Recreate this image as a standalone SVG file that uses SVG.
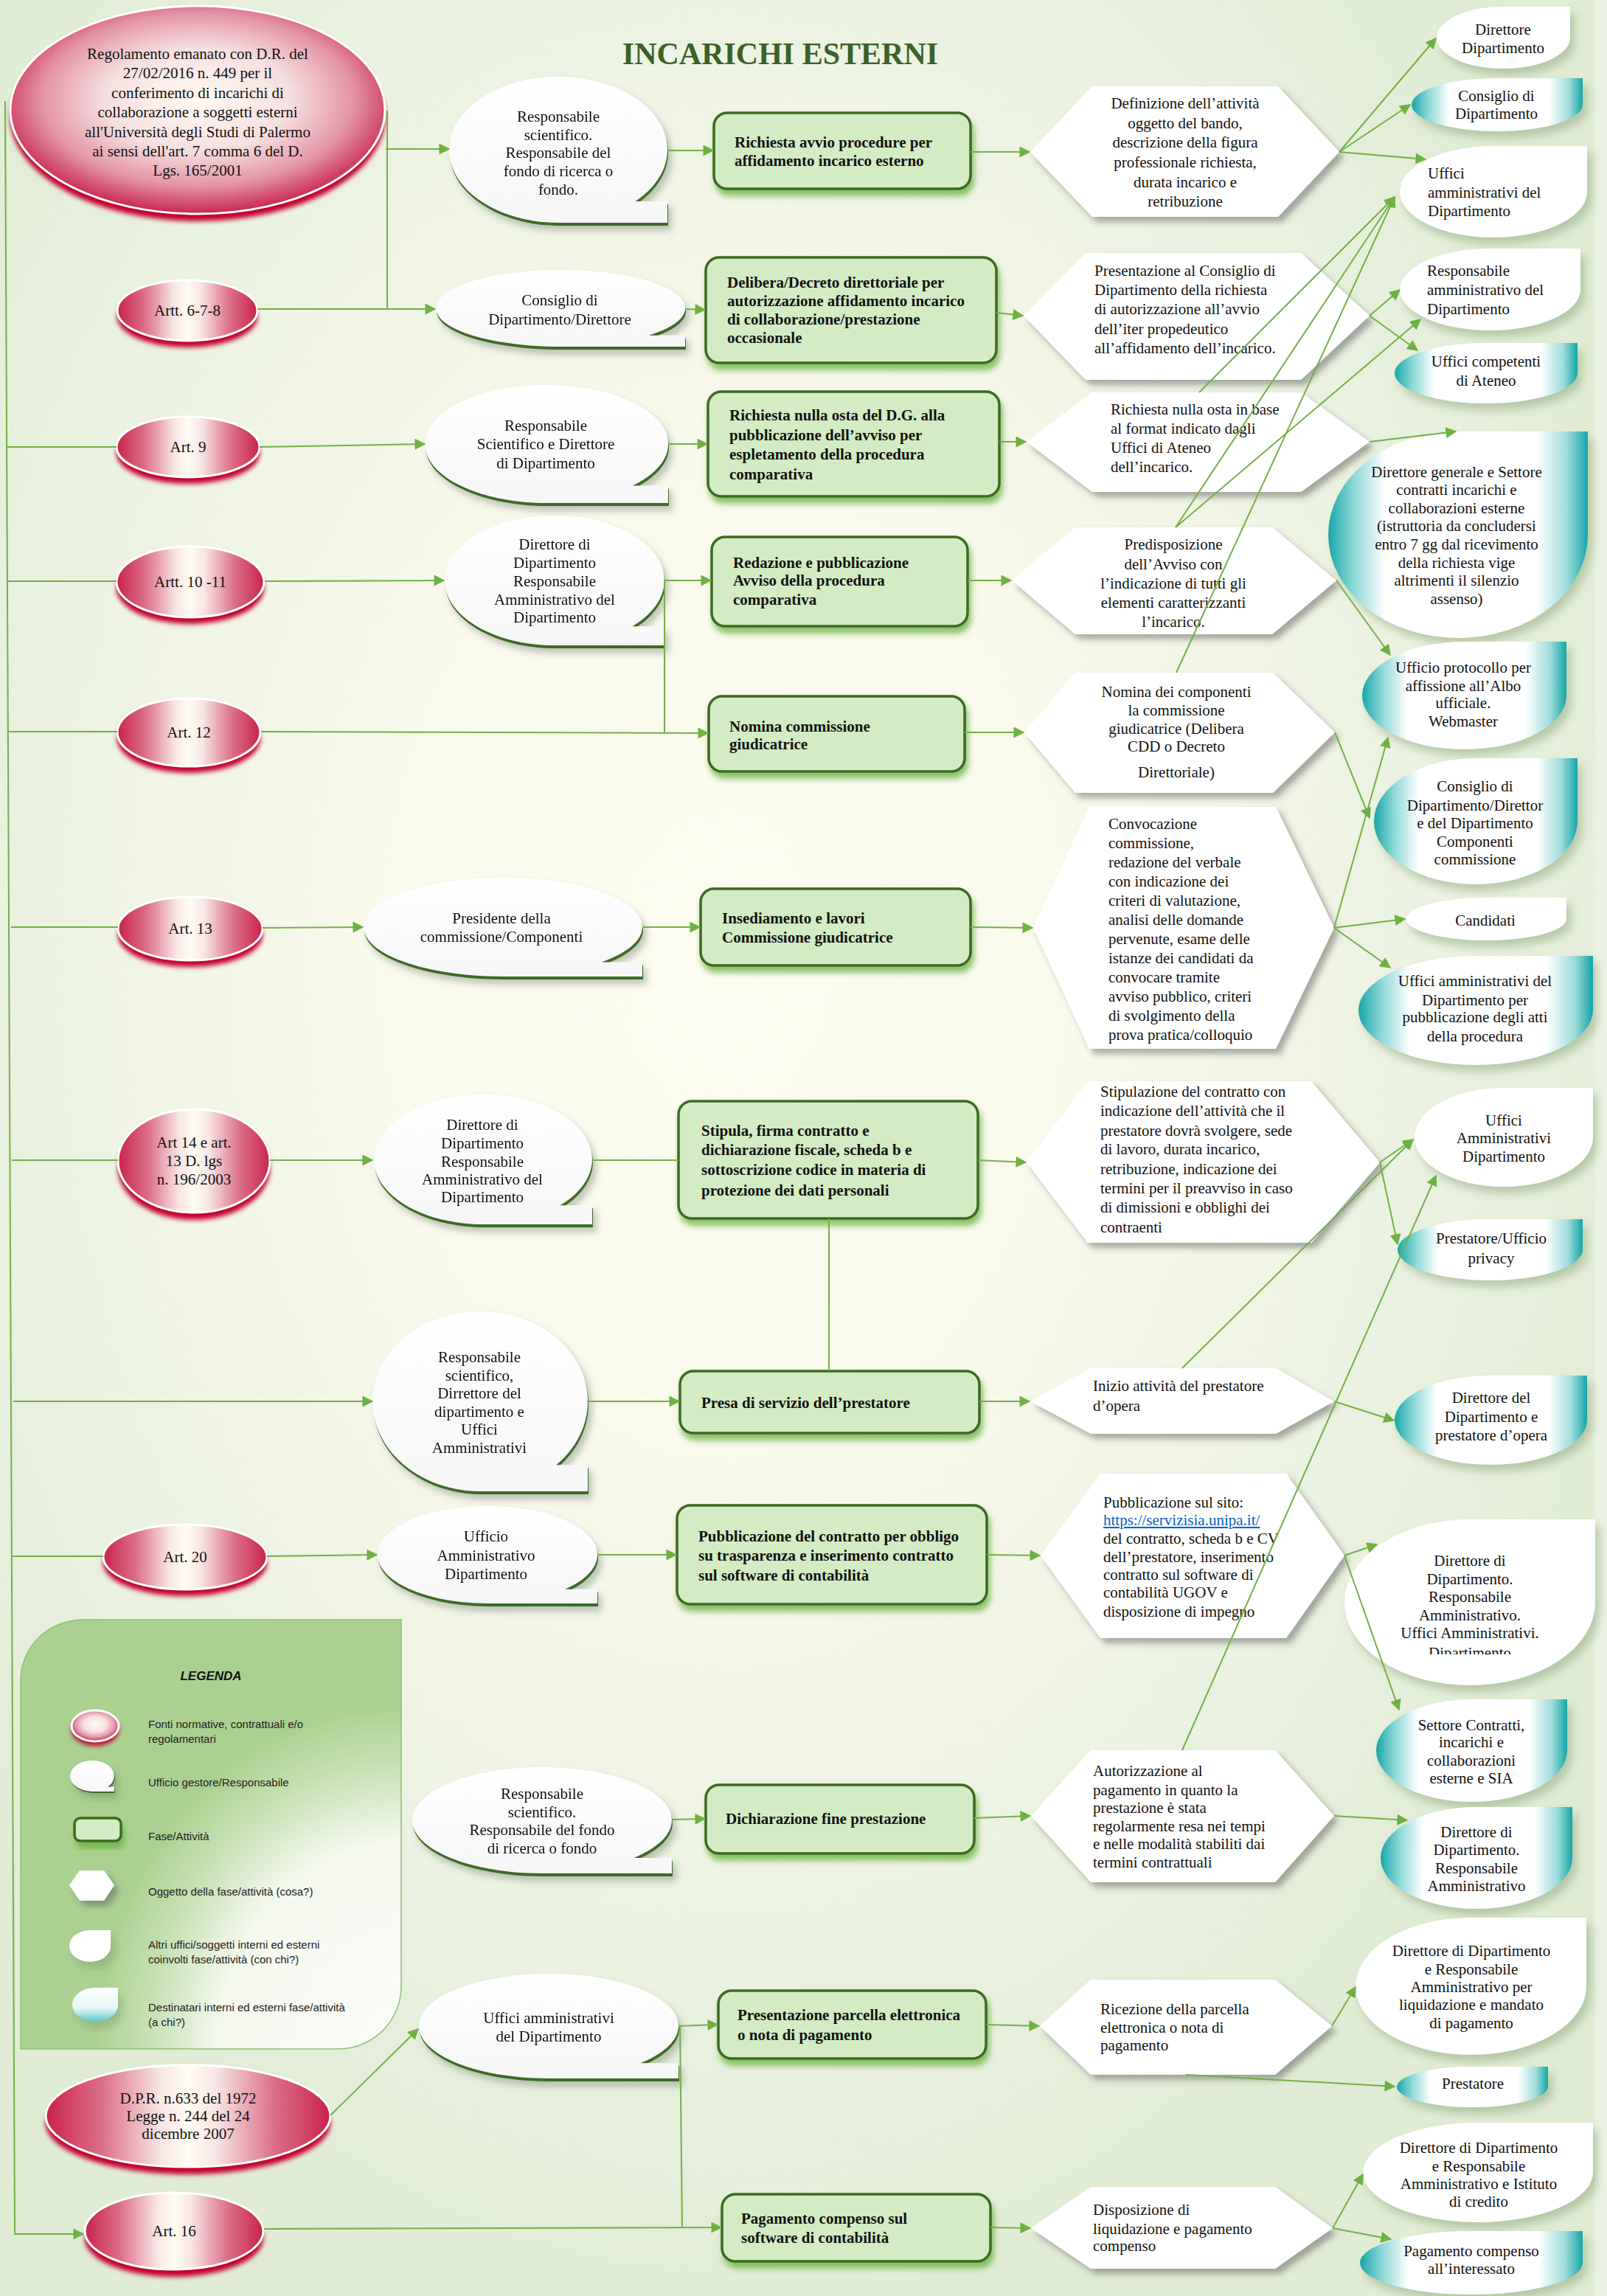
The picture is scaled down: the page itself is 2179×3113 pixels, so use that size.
<svg xmlns="http://www.w3.org/2000/svg" width="2179" height="3113" viewBox="0 0 2179 3113">
<style>
.t{font-family:"Liberation Serif","Times New Roman",serif;font-size:21px;fill:#111}
.m{text-anchor:middle}
.b{font-weight:bold}
.lg{font-family:"Liberation Sans",Arial,sans-serif;font-size:15px;fill:#222}
.ln line,.ln path{stroke:#72b046;stroke-width:2;fill:none}
.a{marker-end:url(#ah)}
.fr{fill:#d3ecc3;stroke:#3c6a22;stroke-width:3.5;filter:url(#fg)}
.hx{fill:#fff;filter:url(#fh)}
.tw{fill:#fff;filter:url(#ft)}
.tc{fill:url(#gc);filter:url(#ft)}
.rs{fill:#c2002e;filter:url(#fr)}
.re{fill:url(#gr);stroke:#fff;stroke-width:3}
.rr{fill:url(#grr);stroke:#fff;stroke-width:3}
.bd{fill:#3e6a25}
.bw{fill:url(#gw)}
.bub{filter:url(#fb)}
</style>
<defs>
<marker id="ah" viewBox="0 0 10 10" refX="9" refY="5" markerWidth="18" markerHeight="15" markerUnits="userSpaceOnUse" orient="auto"><path d="M0,0 L10,5 L0,10 Z" fill="#6fb043"/></marker>
<radialGradient id="bg" cx="0.45" cy="0.42" r="0.6"><stop offset="0" stop-color="#fdfcf0"/><stop offset="0.35" stop-color="#f9f9ec"/><stop offset="0.8" stop-color="#e8f0de"/><stop offset="1" stop-color="#e0ecd4"/></radialGradient>
<linearGradient id="gr" x1="0" x2="1" y1="0" y2="0"><stop offset="0" stop-color="#c8234c"/><stop offset="0.2" stop-color="#dc7088"/><stop offset="0.4" stop-color="#f8e4e4"/><stop offset="0.5" stop-color="#fffcf2"/><stop offset="0.6" stop-color="#f8e4e4"/><stop offset="0.8" stop-color="#dc7088"/><stop offset="1" stop-color="#c8234c"/></linearGradient>
<radialGradient id="grr" cx="0.5" cy="0.45" r="0.55"><stop offset="0" stop-color="#fffaf2"/><stop offset="0.45" stop-color="#f6dfe0"/><stop offset="0.75" stop-color="#e496a8"/><stop offset="1" stop-color="#c92550"/></radialGradient>
<linearGradient id="gc" x1="0" x2="1" y1="0" y2="0"><stop offset="0" stop-color="#17a6a8"/><stop offset="0.1" stop-color="#8fd8d8"/><stop offset="0.22" stop-color="#fff"/><stop offset="0.8" stop-color="#fff"/><stop offset="0.92" stop-color="#9fdcdc"/><stop offset="1" stop-color="#14a5a7"/></linearGradient>
<linearGradient id="gcl" x1="0" x2="0" y1="0" y2="1"><stop offset="0" stop-color="#fff"/><stop offset="0.6" stop-color="#e6f7f7"/><stop offset="1" stop-color="#5ecaca"/></linearGradient>
<linearGradient id="gw" x1="0" x2="0" y1="0" y2="1"><stop offset="0" stop-color="#fff"/><stop offset="1" stop-color="#f6f6f6"/></linearGradient>
<radialGradient id="glg" cx="1" cy="1" r="0.8"><stop offset="0" stop-color="#fbfcf7"/><stop offset="0.6" stop-color="#f4f8ee"/><stop offset="0.85" stop-color="#c3dfad"/><stop offset="1" stop-color="#aad190"/></radialGradient>
<filter id="fh" x="-10%" y="-10%" width="130%" height="140%"><feDropShadow dx="6" dy="7" stdDeviation="4" flood-color="#4a4a4a" flood-opacity="0.45"/></filter>
<filter id="fg" x="-10%" y="-10%" width="130%" height="150%"><feDropShadow dx="3" dy="8" stdDeviation="4" flood-color="#5fae36" flood-opacity="0.75"/></filter>
<filter id="fb" x="-10%" y="-10%" width="130%" height="140%"><feDropShadow dx="5" dy="7" stdDeviation="5" flood-color="#556655" flood-opacity="0.35"/></filter>
<filter id="ft" x="-10%" y="-10%" width="130%" height="140%"><feDropShadow dx="6" dy="9" stdDeviation="6" flood-color="#7f9a70" flood-opacity="0.45"/></filter>
<filter id="fr" x="-10%" y="-10%" width="120%" height="130%"><feGaussianBlur stdDeviation="3"/></filter>
<clipPath id="c14"><rect x="1800" y="2050" width="380" height="193"/></clipPath>
</defs>

<rect width="2179" height="3113" fill="url(#bg)"/>
<rect x="2163" y="0" width="16" height="3113" fill="#eef3e8" opacity="0.7"/>

<text x="1058" y="87" text-anchor="middle" font-family="Liberation Serif" font-weight="bold" font-size="42" fill="#3b6128">INCARICHI ESTERNI</text>

<!-- Legend -->
<g id="legenda">
<path d="M28,2278 A85,82 0 0 1 113,2196 L544,2196 L544,2693 A85,85 0 0 1 459,2778 L28,2778 Z" fill="url(#glg)" stroke="#8fc175" stroke-width="1.5"/>
<text x="286" y="2278" text-anchor="middle" font-family="Liberation Sans" font-weight="bold" font-style="italic" font-size="17" fill="#111">LEGENDA</text>
<ellipse cx="129" cy="2346" rx="32" ry="21" class="rs"/>
<ellipse cx="129" cy="2340" rx="32" ry="21" class="rr" stroke-width="2"/>
<text class="lg" x="201" y="2343">Fonti normative, contrattuali e/o</text>
<text class="lg" x="201" y="2363">regolamentari</text>
<g class="bub"><path class="bd" transform="translate(1,2)" d="M125,2429 A30,21 0 1 1 146.2,2422.8 L155,2422.8 L155,2429 Z"/><path class="bw" d="M125,2429 A30,21 0 1 1 146.2,2422.8 L155,2422.8 L155,2429 Z"/></g>
<text class="lg" x="201" y="2422">Ufficio gestore/Responsabile</text>
<rect x="101" y="2465" width="63" height="31" rx="8" class="fr" stroke-width="2.5"/>
<text class="lg" x="201" y="2495">Fase/Attività</text>
<polygon class="hx" points="94,2556 108,2536 141,2536 155,2556 141,2577 108,2577"/>
<text class="lg" x="201" y="2570">Oggetto della fase/attività (cosa?)</text>
<path class="tw" d="M122,2617 L150,2617 L150,2638.5 A28,21.5 0 0 1 122,2660 A28,21.5 0 0 1 94,2638.5 A28,21.5 0 0 1 122,2617 Z"/>
<text class="lg" x="201" y="2642">Altri uffici/soggetti interni ed esterni</text>
<text class="lg" x="201" y="2662">coinvolti fase/attività  (con chi?)</text>
<path fill="url(#gcl)" filter="url(#ft)" d="M129,2695 L160,2695 L160,2718 A31,23 0 0 1 129,2741 A31,23 0 0 1 98,2718 A31,23 0 0 1 129,2695 Z"/>
<text class="lg" x="201" y="2727">Destinatari interni ed esterni fase/attività</text>
<text class="lg" x="201" y="2747">(a chi?)</text>
</g>

<!-- Red source ellipses -->
<g id="n-regolamento">
<ellipse cx="268" cy="159" rx="254" ry="141" class="rs"/>
<ellipse cx="268" cy="149" rx="254" ry="141" class="rr"/>
<text class="t m"><tspan x="268" y="80">Regolamento emanato con D.R. del</tspan><tspan x="268" y="106">27/02/2016 n. 449 per il</tspan><tspan x="268" y="133">conferimento di incarichi di</tspan><tspan x="268" y="159">collaborazione a soggetti esterni</tspan><tspan x="268" y="186">all'Università degli Studi di Palermo</tspan><tspan x="268" y="212">ai sensi dell'art. 7 comma 6 del D.</tspan><tspan x="268" y="238">Lgs. 165/2001</tspan></text>
</g>
<g id="n-art678"><ellipse cx="254" cy="430" rx="95" ry="41" class="rs"/><ellipse cx="254" cy="421" rx="95" ry="41" class="re"/><text class="t m" x="254" y="428">Artt. 6-7-8</text></g>
<g id="n-art9"><ellipse cx="255" cy="615" rx="97" ry="41" class="rs"/><ellipse cx="255" cy="606" rx="97" ry="41" class="re"/><text class="t m" x="255" y="613">Art. 9</text></g>
<g id="n-art1011"><ellipse cx="258" cy="798" rx="100" ry="48" class="rs"/><ellipse cx="258" cy="789" rx="100" ry="48" class="re"/><text class="t m" x="258" y="796">Artt. 10 -11</text></g>
<g id="n-art12"><ellipse cx="256" cy="1002" rx="97" ry="46" class="rs"/><ellipse cx="256" cy="993" rx="97" ry="46" class="re"/><text class="t m" x="256" y="1000">Art. 12</text></g>
<g id="n-art13"><ellipse cx="258" cy="1268" rx="98" ry="43" class="rs"/><ellipse cx="258" cy="1259" rx="98" ry="43" class="re"/><text class="t m" x="258" y="1266">Art. 13</text></g>
<g id="n-art14"><ellipse cx="263" cy="1584" rx="103" ry="70" class="rs"/><ellipse cx="263" cy="1574" rx="103" ry="70" class="re"/><text class="t m"><tspan x="263" y="1556">Art 14 e art.</tspan><tspan x="263" y="1581">13 D. lgs</tspan><tspan x="263" y="1606">n. 196/2003</tspan></text></g>
<g id="n-art20"><ellipse cx="251" cy="2120" rx="111" ry="44" class="rs"/><ellipse cx="251" cy="2111" rx="111" ry="44" class="re"/><text class="t m" x="251" y="2118">Art. 20</text></g>
<g id="n-dpr"><ellipse cx="255" cy="2879" rx="193" ry="69" class="rs"/><ellipse cx="255" cy="2869" rx="193" ry="69" class="re"/><text class="t m"><tspan x="255" y="2852">D.P.R. n.633 del 1972</tspan><tspan x="255" y="2876">Legge n. 244 del 24</tspan><tspan x="255" y="2900">dicembre 2007</tspan></text></g>
<g id="n-art16"><ellipse cx="236" cy="3035" rx="121" ry="52" class="rs"/><ellipse cx="236" cy="3025" rx="121" ry="52" class="re"/><text class="t m" x="236" y="3032">Art. 16</text></g>

<!-- Responsible bubbles -->
<g id="n-b1" class="bub"><path class="bd" transform="translate(1,4)" d="M757,302 A148,99 0 1 1 861.6,273 L905,273 L905,302 Z"/><path class="bw" d="M757,302 A148,99 0 1 1 861.6,273 L905,273 L905,302 Z"/>
<text class="t m"><tspan x="757" y="165">Responsabile</tspan><tspan x="757" y="190">scientifico.</tspan><tspan x="757" y="214">Responsabile del</tspan><tspan x="757" y="239">fondo di ricerca o</tspan><tspan x="757" y="264">fondo.</tspan></text></g>
<g id="n-b2" class="bub"><path class="bd" transform="translate(1,4)" d="M760,470 A169,52 0 1 1 879.5,454.8 L929,454.8 L929,470 Z"/><path class="bw" d="M760,470 A169,52 0 1 1 879.5,454.8 L929,454.8 L929,470 Z"/>
<text class="t m"><tspan x="759" y="414">Consiglio di</tspan><tspan x="759" y="440">Dipartimento/Direttore</tspan></text></g>
<g id="n-b3" class="bub"><path class="bd" transform="translate(1,4)" d="M741,682 A165,80 0 1 1 857.7,658.6 L906,658.6 L906,682 Z"/><path class="bw" d="M741,682 A165,80 0 1 1 857.7,658.6 L906,658.6 L906,682 Z"/>
<text class="t m"><tspan x="740" y="584">Responsabile</tspan><tspan x="740" y="609">Scientifico e Direttore</tspan><tspan x="740" y="635">di Dipartimento</tspan></text></g>
<g id="n-b4" class="bub"><path class="bd" transform="translate(1,4)" d="M752,875 A149,88 0 1 1 857.3,849.2 L901,849.2 L901,875 Z"/><path class="bw" d="M752,875 A149,88 0 1 1 857.3,849.2 L901,849.2 L901,875 Z"/>
<text class="t m"><tspan x="752" y="745">Direttore di</tspan><tspan x="752" y="770">Dipartimento</tspan><tspan x="752" y="795">Responsabile</tspan><tspan x="752" y="820">Amministrativo del</tspan><tspan x="752" y="844">Dipartimento</tspan></text></g>
<g id="n-b5" class="bub"><path class="bd" transform="translate(1,4)" d="M682,1324 A189,67 0 1 1 815.6,1304.4 L871,1304.4 L871,1324 Z"/><path class="bw" d="M682,1324 A189,67 0 1 1 815.6,1304.4 L871,1304.4 L871,1324 Z"/>
<text class="t m"><tspan x="680" y="1252">Presidente della</tspan><tspan x="680" y="1277">commissione/Componenti</tspan></text></g>
<g id="n-b6" class="bub"><path class="bd" transform="translate(1,4)" d="M655,1660 A148,88 0 1 1 759.6,1634.2 L803,1634.2 L803,1660 Z"/><path class="bw" d="M655,1660 A148,88 0 1 1 759.6,1634.2 L803,1634.2 L803,1660 Z"/>
<text class="t m"><tspan x="654" y="1532">Direttore di</tspan><tspan x="654" y="1557">Dipartimento</tspan><tspan x="654" y="1582">Responsabile</tspan><tspan x="654" y="1606">Amministrativo del</tspan><tspan x="654" y="1630">Dipartimento</tspan></text></g>
<g id="n-b7" class="bub"><path class="bd" transform="translate(1,4)" d="M651,2022 A146,122 0 1 1 754.2,1986.3 L797,1986.3 L797,2022 Z"/><path class="bw" d="M651,2022 A146,122 0 1 1 754.2,1986.3 L797,1986.3 L797,2022 Z"/>
<text class="t m"><tspan x="650" y="1847">Responsabile</tspan><tspan x="650" y="1872">scientifico,</tspan><tspan x="650" y="1896">Dirrettore del</tspan><tspan x="650" y="1921">dipartimento e</tspan><tspan x="650" y="1945">Uffici</tspan><tspan x="650" y="1970">Amministrativi</tspan></text></g>
<g id="n-b8" class="bub"><path class="bd" transform="translate(1,4)" d="M661,2174 A149,66 0 1 1 766.3,2154.7 L810,2154.7 L810,2174 Z"/><path class="bw" d="M661,2174 A149,66 0 1 1 766.3,2154.7 L810,2154.7 L810,2174 Z"/>
<text class="t m"><tspan x="659" y="2090">Ufficio</tspan><tspan x="659" y="2116">Amministrativo</tspan><tspan x="659" y="2141">Dipartimento</tspan></text></g>
<g id="n-b9" class="bub"><path class="bd" transform="translate(1,4)" d="M735,2540 A176,72 0 1 1 859.4,2518.9 L911,2518.9 L911,2540 Z"/><path class="bw" d="M735,2540 A176,72 0 1 1 859.4,2518.9 L911,2518.9 L911,2540 Z"/>
<text class="t m"><tspan x="735" y="2439">Responsabile</tspan><tspan x="735" y="2464">scientifico.</tspan><tspan x="735" y="2488">Responsabile del fondo</tspan><tspan x="735" y="2513">di ricerca o fondo</tspan></text></g>
<g id="n-b10" class="bub"><path class="bd" transform="translate(1,4)" d="M744,2818 A176,71 0 1 1 868.4,2797.2 L920,2797.2 L920,2818 Z"/><path class="bw" d="M744,2818 A176,71 0 1 1 868.4,2797.2 L920,2797.2 L920,2818 Z"/>
<text class="t m"><tspan x="744" y="2743">Uffici amministrativi</tspan><tspan x="744" y="2768">del Dipartimento</tspan></text></g>

<!-- Phase rectangles -->
<g id="n-r1"><rect x="968" y="153" width="348" height="103" rx="18" class="fr"/><text class="t b"><tspan x="996" y="200">Richiesta avvio procedure per</tspan><tspan x="996" y="225">affidamento incarico esterno</tspan></text></g>
<g id="n-r2"><rect x="957" y="349" width="394" height="143" rx="18" class="fr"/><text class="t b"><tspan x="986" y="390">Delibera/Decreto direttoriale per</tspan><tspan x="986" y="415">autorizzazione affidamento incarico</tspan><tspan x="986" y="440">di collaborazione/prestazione</tspan><tspan x="986" y="465">occasionale</tspan></text></g>
<g id="n-r3"><rect x="960" y="531" width="395" height="142" rx="18" class="fr"/><text class="t b"><tspan x="989" y="570">Richiesta nulla osta del D.G.  alla</tspan><tspan x="989" y="597">pubblicazione dell’avviso per</tspan><tspan x="989" y="623">espletamento della procedura</tspan><tspan x="989" y="650">comparativa</tspan></text></g>
<g id="n-r4"><rect x="965" y="728" width="347" height="121" rx="18" class="fr"/><text class="t b"><tspan x="994" y="770">Redazione e pubblicazione</tspan><tspan x="994" y="794">Avviso della procedura</tspan><tspan x="994" y="820">comparativa</tspan></text></g>
<g id="n-r5"><rect x="961" y="944" width="347" height="102" rx="18" class="fr"/><text class="t b"><tspan x="989" y="992">Nomina commissione</tspan><tspan x="989" y="1016">giudicatrice</tspan></text></g>
<g id="n-r6"><rect x="950" y="1205" width="366" height="104" rx="18" class="fr"/><text class="t b"><tspan x="979" y="1252">Insediamento e lavori</tspan><tspan x="979" y="1278">Commissione giudicatrice</tspan></text></g>
<g id="n-r7"><rect x="920" y="1493" width="406" height="159" rx="18" class="fr"/><text class="t b"><tspan x="951" y="1540">Stipula, firma contratto e</tspan><tspan x="951" y="1566">dichiarazione fiscale, scheda b e</tspan><tspan x="951" y="1593">sottoscrizione codice in materia di</tspan><tspan x="951" y="1621">protezione dei dati personali</tspan></text></g>
<g id="n-r8"><rect x="922" y="1859" width="406" height="84" rx="18" class="fr"/><text class="t b" x="951" y="1909">Presa di servizio dell’prestatore</text></g>
<g id="n-r9"><rect x="918" y="2041" width="420" height="134" rx="18" class="fr"/><text class="t b"><tspan x="947" y="2090">Pubblicazione del contratto per obbligo</tspan><tspan x="947" y="2116">su trasparenza e inserimento contratto</tspan><tspan x="947" y="2143">sul software di contabilità</tspan></text></g>
<g id="n-r10"><rect x="957" y="2420" width="364" height="93" rx="18" class="fr"/><text class="t b" x="984" y="2473">Dichiarazione fine prestazione</text></g>
<g id="n-r11"><rect x="974" y="2699" width="363" height="92" rx="18" class="fr"/><text class="t b"><tspan x="1000" y="2739">Presentazione parcella elettronica</tspan><tspan x="1000" y="2766">o nota di pagamento</tspan></text></g>
<g id="n-r12"><rect x="979" y="2975" width="364" height="91" rx="18" class="fr"/><text class="t b"><tspan x="1005" y="3015">Pagamento compenso sul</tspan><tspan x="1005" y="3041">software di contabilità</tspan></text></g>

<!-- Hexagons -->
<g id="n-h1"><polygon class="hx" points="1397,206 1481,117 1733,117 1816,206 1733,294 1481,294"/><text class="t m"><tspan x="1607" y="147">Definizione dell’attività</tspan><tspan x="1607" y="174">oggetto del bando,</tspan><tspan x="1607" y="200">descrizione della figura</tspan><tspan x="1607" y="227">professionale richiesta,</tspan><tspan x="1607" y="254">durata incarico e</tspan><tspan x="1607" y="280">retribuzione</tspan></text></g>
<g id="n-h2"><polygon class="hx" points="1388,428 1472,343 1764,343 1857,428 1764,515 1472,515"/><text class="t"><tspan x="1484" y="374">Presentazione al Consiglio di</tspan><tspan x="1484" y="400">Dipartimento della richiesta</tspan><tspan x="1484" y="426">di autorizzazione all’avvio</tspan><tspan x="1484" y="453">dell’iter propedeutico</tspan><tspan x="1484" y="479">all’affidamento dell’incarico.</tspan></text></g>
<g id="n-h3"><polygon class="hx" points="1392,599 1481,532 1764,532 1857,599 1764,667 1481,667"/><text class="t"><tspan x="1506" y="562">Richiesta nulla osta in base</tspan><tspan x="1506" y="588">al format indicato dagli</tspan><tspan x="1506" y="614">Uffici di Ateneo</tspan><tspan x="1506" y="640">dell’incarico.</tspan></text></g>
<g id="n-h4"><polygon class="hx" points="1372,787 1458,715 1725,715 1812,787 1725,860 1458,860"/><text class="t m"><tspan x="1591" y="745">Predisposizione</tspan><tspan x="1591" y="772">dell’Avviso con</tspan><tspan x="1591" y="798">l’indicazione di tutti gli</tspan><tspan x="1591" y="824">elementi caratterizzanti</tspan><tspan x="1591" y="850">l’incarico.</tspan></text></g>
<g id="n-h5"><polygon class="hx" points="1389,993 1458,912 1726,912 1810,993 1726,1075 1458,1075"/><text class="t m"><tspan x="1595" y="945">Nomina dei componenti</tspan><tspan x="1595" y="970">la commissione</tspan><tspan x="1595" y="995">giudicatrice (Delibera</tspan><tspan x="1595" y="1019">CDD o Decreto</tspan><tspan x="1595" y="1054">Direttoriale)</tspan></text></g>
<g id="n-h6"><polygon class="hx" points="1401,1258 1477,1094 1730,1094 1809,1258 1730,1422 1477,1422"/><text class="t"><tspan x="1503" y="1124">Convocazione</tspan><tspan x="1503" y="1150">commissione,</tspan><tspan x="1503" y="1176">redazione del verbale</tspan><tspan x="1503" y="1202">con indicazione dei</tspan><tspan x="1503" y="1228">criteri di valutazione,</tspan><tspan x="1503" y="1254">analisi delle domande</tspan><tspan x="1503" y="1280">pervenute, esame delle</tspan><tspan x="1503" y="1306">istanze dei candidati da</tspan><tspan x="1503" y="1332">convocare tramite</tspan><tspan x="1503" y="1358">avviso pubblico, criteri</tspan><tspan x="1503" y="1384">di svolgimento della</tspan><tspan x="1503" y="1410">prova pratica/colloquio</tspan></text></g>
<g id="n-h7"><polygon class="hx" points="1392,1576 1475,1466 1778,1466 1871,1576 1778,1685 1475,1685"/><text class="t"><tspan x="1492" y="1487">Stipulazione del contratto con</tspan><tspan x="1492" y="1513">indicazione dell’attività che il</tspan><tspan x="1492" y="1540">prestatore dovrà svolgere, sede</tspan><tspan x="1492" y="1565">di lavoro, durata incarico,</tspan><tspan x="1492" y="1592">retribuzione, indicazione dei</tspan><tspan x="1492" y="1618">termini per il preavviso in caso</tspan><tspan x="1492" y="1644">di dimissioni e obblighi dei</tspan><tspan x="1492" y="1671">contraenti</tspan></text></g>
<g id="n-h8"><polygon class="hx" points="1397,1900 1479,1855 1730,1855 1809,1900 1730,1944 1479,1944"/><text class="t"><tspan x="1482" y="1886">Inizio attività del prestatore</tspan><tspan x="1482" y="1913">d’opera</tspan></text></g>
<g id="n-h9"><polygon class="hx" points="1411,2109 1492,1998 1744,1998 1823,2109 1744,2221 1492,2221"/><text class="t"><tspan x="1496" y="2044">Pubblicazione sul sito:</tspan><tspan x="1496" y="2068" fill="#0563c1" text-decoration="underline">https://servizisia.unipa.it/</tspan><tspan x="1496" y="2093">del contratto, scheda b e CV</tspan><tspan x="1496" y="2118">dell’prestatore, inserimento</tspan><tspan x="1496" y="2142">contratto sul software di</tspan><tspan x="1496" y="2166">contabilità UGOV e</tspan><tspan x="1496" y="2192">disposizione di impegno</tspan></text></g>
<g id="n-h10"><polygon class="hx" points="1398,2462 1479,2373 1729,2373 1809,2462 1729,2552 1479,2552"/><text class="t"><tspan x="1482" y="2408">Autorizzazione al</tspan><tspan x="1482" y="2434">pagamento in quanto la</tspan><tspan x="1482" y="2458">prestazione è stata</tspan><tspan x="1482" y="2483">regolarmente resa nei tempi</tspan><tspan x="1482" y="2507">e nelle modalità stabiliti dai</tspan><tspan x="1482" y="2532">termini contrattuali</tspan></text></g>
<g id="n-h11"><polygon class="hx" points="1410,2747 1479,2684 1729,2684 1806,2747 1729,2813 1479,2813"/><text class="t"><tspan x="1492" y="2731">Ricezione della parcella</tspan><tspan x="1492" y="2756">elettronica o nota di</tspan><tspan x="1492" y="2780">pagamento</tspan></text></g>
<g id="n-h12"><polygon class="hx" points="1398,3021 1479,2965 1729,2965 1807,3021 1729,3076 1479,3076"/><text class="t"><tspan x="1482" y="3003">Disposizione di</tspan><tspan x="1482" y="3029">liquidazione e pagamento</tspan><tspan x="1482" y="3052">compenso</tspan></text></g>

<!-- Right column: involved / recipients -->
<g id="n-t1"><path class="tw" d="M2038.5,9 L2129,9 L2129,51 A90.5,42 0 0 1 2038.5,93 A90.5,42 0 0 1 1948,51 A90.5,42 0 0 1 2038.5,9 Z"/><text class="t m"><tspan x="2038" y="47">Direttore</tspan><tspan x="2038" y="72">Dipartimento</tspan></text></g>
<g id="n-t2"><path class="tc" d="M2030,106 L2146,106 L2146,142 A116,36 0 0 1 2030,178 A116,36 0 0 1 1914,142 A116,36 0 0 1 2030,106 Z"/><text class="t m"><tspan x="2029" y="137">Consiglio di</tspan><tspan x="2029" y="161">Dipartimento</tspan></text></g>
<g id="n-t3"><path class="tw" d="M2025,198 L2152,198 L2152,260 A127,62 0 0 1 2025,322 A127,62 0 0 1 1898,260 A127,62 0 0 1 2025,198 Z"/><text class="t"><tspan x="1936" y="242">Uffici</tspan><tspan x="1936" y="268">amministrativi del</tspan><tspan x="1936" y="293">Dipartimento</tspan></text></g>
<g id="n-t4"><path class="tw" d="M2020.5,337 L2143,337 L2143,392.5 A122.5,55.5 0 0 1 2020.5,448 A122.5,55.5 0 0 1 1898,392.5 A122.5,55.5 0 0 1 2020.5,337 Z"/><text class="t"><tspan x="1935" y="374">Responsabile</tspan><tspan x="1935" y="400">amministrativo del</tspan><tspan x="1935" y="426">Dipartimento</tspan></text></g>
<g id="n-t5"><path class="tc" d="M2015,465 L2139,465 L2139,506 A124,41 0 0 1 2015,547 A124,41 0 0 1 1891,506 A124,41 0 0 1 2015,465 Z"/><text class="t m"><tspan x="2015" y="497">Uffici competenti</tspan><tspan x="2015" y="523">di Ateneo</tspan></text></g>
<g id="n-t6"><path class="tc" d="M1977,585 L2153,585 L2153,725 A176,140 0 0 1 1977,865 A176,140 0 0 1 1801,725 A176,140 0 0 1 1977,585 Z"/><text class="t m"><tspan x="1975" y="647">Direttore generale e Settore</tspan><tspan x="1975" y="671">contratti incarichi e</tspan><tspan x="1975" y="696">collaborazioni esterne</tspan><tspan x="1975" y="720">(istruttoria da concludersi</tspan><tspan x="1975" y="745">entro 7 gg dal ricevimento</tspan><tspan x="1975" y="770">della richiesta vige</tspan><tspan x="1975" y="794">altrimenti il silenzio</tspan><tspan x="1975" y="819">assenso)</tspan></text></g>
<g id="n-t7"><path class="tc" d="M1985.5,870 L2124,870 L2124,943 A138.5,73 0 0 1 1985.5,1016 A138.5,73 0 0 1 1847,943 A138.5,73 0 0 1 1985.5,870 Z"/><text class="t m"><tspan x="1984" y="912">Ufficio protocollo per</tspan><tspan x="1984" y="937">affissione all’Albo</tspan><tspan x="1984" y="960">ufficiale.</tspan><tspan x="1984" y="985">Webmaster</tspan></text></g>
<g id="n-t8"><path class="tc" d="M2001,1028 L2139,1028 L2139,1113.5 A138,85.5 0 0 1 2001,1199 A138,85.5 0 0 1 1863,1113.5 A138,85.5 0 0 1 2001,1028 Z"/><text class="t m"><tspan x="2000" y="1073">Consiglio di</tspan><tspan x="2000" y="1099">Dipartimento/Direttor</tspan><tspan x="2000" y="1123">e del Dipartimento</tspan><tspan x="2000" y="1148">Componenti</tspan><tspan x="2000" y="1172">commissione</tspan></text></g>
<g id="n-t9"><path class="tw" d="M2015.5,1217 L2124,1217 L2124,1246 A108.5,29 0 0 1 2015.5,1275 A108.5,29 0 0 1 1907,1246 A108.5,29 0 0 1 2015.5,1217 Z"/><text class="t m" x="2014" y="1255">Candidati</text></g>
<g id="n-t10"><path class="tc" d="M2001,1296 L2160,1296 L2160,1370 A159,74 0 0 1 2001,1444 A159,74 0 0 1 1842,1370 A159,74 0 0 1 2001,1296 Z"/><text class="t m"><tspan x="2000" y="1337">Uffici amministrativi del</tspan><tspan x="2000" y="1363">Dipartimento per</tspan><tspan x="2000" y="1386">pubblicazione degli atti</tspan><tspan x="2000" y="1412">della procedura</tspan></text></g>
<g id="n-t11"><path class="tw" d="M2039,1475 L2160,1475 L2160,1542 A121,67 0 0 1 2039,1609 A121,67 0 0 1 1918,1542 A121,67 0 0 1 2039,1475 Z"/><text class="t m"><tspan x="2039" y="1526">Uffici</tspan><tspan x="2039" y="1550">Amministrativi</tspan><tspan x="2039" y="1575">Dipartimento</tspan></text></g>
<g id="n-t12"><path class="tc" d="M2020.5,1653 L2146,1653 L2146,1694.5 A125.5,41.5 0 0 1 2020.5,1736 A125.5,41.5 0 0 1 1895,1694.5 A125.5,41.5 0 0 1 2020.5,1653 Z"/><text class="t m"><tspan x="2022" y="1686">Prestatore/Ufficio</tspan><tspan x="2022" y="1713">privacy</tspan></text></g>
<g id="n-t13"><path class="tc" d="M2021.5,1865 L2152,1865 L2152,1925.5 A130.5,60.5 0 0 1 2021.5,1986 A130.5,60.5 0 0 1 1891,1925.5 A130.5,60.5 0 0 1 2021.5,1865 Z"/><text class="t m"><tspan x="2022" y="1902">Direttore del</tspan><tspan x="2022" y="1928">Dipartimento e</tspan><tspan x="2022" y="1953">prestatore d’opera</tspan></text></g>
<g id="n-t14"><path class="tw" d="M1993,2060 L2163,2060 L2163,2172.5 A170,112.5 0 0 1 1993,2285 A170,112.5 0 0 1 1823,2172.5 A170,112.5 0 0 1 1993,2060 Z"/><text class="t m" clip-path="url(#c14)"><tspan x="1993" y="2123">Direttore di</tspan><tspan x="1993" y="2148">Dipartimento.</tspan><tspan x="1993" y="2172">Responsabile</tspan><tspan x="1993" y="2197">Amministrativo.</tspan><tspan x="1993" y="2221">Uffici Amministrativi.</tspan><tspan x="1993" y="2248">Dipartimento</tspan></text></g>
<g id="n-t15"><path class="tc" d="M1995.5,2304 L2125,2304 L2125,2373.5 A129.5,69.5 0 0 1 1995.5,2443 A129.5,69.5 0 0 1 1866,2373.5 A129.5,69.5 0 0 1 1995.5,2304 Z"/><text class="t m"><tspan x="1995" y="2346">Settore Contratti,</tspan><tspan x="1995" y="2369">incarichi e</tspan><tspan x="1995" y="2394">collaborazioni</tspan><tspan x="1995" y="2418">esterne e SIA</tspan></text></g>
<g id="n-t16"><path class="tc" d="M2002,2450 L2132,2450 L2132,2519 A130,69 0 0 1 2002,2588 A130,69 0 0 1 1872,2519 A130,69 0 0 1 2002,2450 Z"/><text class="t m"><tspan x="2002" y="2491">Direttore di</tspan><tspan x="2002" y="2515">Dipartimento.</tspan><tspan x="2002" y="2540">Responsabile</tspan><tspan x="2002" y="2564">Amministrativo</tspan></text></g>
<g id="n-t17"><path class="tw" d="M1994.5,2600 L2151,2600 L2151,2693 A156.5,93 0 0 1 1994.5,2786 A156.5,93 0 0 1 1838,2693 A156.5,93 0 0 1 1994.5,2600 Z"/><text class="t m"><tspan x="1995" y="2652">Direttore di Dipartimento</tspan><tspan x="1995" y="2677">e Responsabile</tspan><tspan x="1995" y="2701">Amministrativo per</tspan><tspan x="1995" y="2725">liquidazione e mandato</tspan><tspan x="1995" y="2750">di pagamento</tspan></text></g>
<g id="n-t18"><path class="tc" d="M1996.5,2802 L2099,2802 L2099,2829.5 A102.5,27.5 0 0 1 1996.5,2857 A102.5,27.5 0 0 1 1894,2829.5 A102.5,27.5 0 0 1 1996.5,2802 Z"/><text class="t m" x="1997" y="2832">Prestatore</text></g>
<g id="n-t19"><path class="tw" d="M2004,2878 L2160,2878 L2160,2945.5 A156,67.5 0 0 1 2004,3013 A156,67.5 0 0 1 1848,2945.5 A156,67.5 0 0 1 2004,2878 Z"/><text class="t m"><tspan x="2005" y="2919">Direttore di Dipartimento</tspan><tspan x="2005" y="2944">e Responsabile</tspan><tspan x="2005" y="2968">Amministrativo e Istituto</tspan><tspan x="2005" y="2992">di credito</tspan></text></g>
<g id="n-t20"><path class="tc" d="M1995,3025 L2146,3025 L2146,3068 A151,43 0 0 1 1995,3111 A151,43 0 0 1 1844,3068 A151,43 0 0 1 1995,3025 Z"/><text class="t m"><tspan x="1995" y="3059">Pagamento compenso</tspan><tspan x="1995" y="3083">all’interessato</tspan></text></g>

<!-- Connectors -->
<g id="connectors" class="ln">
<path class="a" d="M7,137 L20,3029 L113,3029"/>
<line x1="10" y1="606" x2="158" y2="606"/>
<line x1="11" y1="788" x2="158" y2="788"/>
<line x1="12" y1="992" x2="159" y2="992"/>
<line x1="15" y1="1257" x2="160" y2="1257"/>
<line x1="16" y1="1573" x2="160" y2="1573"/>
<line x1="17" y1="2110" x2="140" y2="2110"/>
<line class="a" x1="18" y1="1900" x2="505" y2="1900"/>
<line x1="525" y1="150" x2="525" y2="419"/>
<line class="a" x1="523" y1="202" x2="609" y2="202"/>
<line class="a" x1="349" y1="419" x2="590" y2="419"/>
<line class="a" x1="905" y1="204" x2="967" y2="204"/>
<line class="a" x1="1316" y1="206" x2="1396" y2="206"/>
<line class="a" x1="929" y1="419" x2="956" y2="420"/>
<line class="a" x1="1351" y1="424" x2="1387" y2="428"/>
<line class="a" x1="352" y1="606" x2="576" y2="602"/>
<line class="a" x1="906" y1="602" x2="959" y2="602"/>
<line class="a" x1="1355" y1="599" x2="1391" y2="599"/>
<line class="a" x1="359" y1="788" x2="602" y2="787"/>
<line class="a" x1="901" y1="787" x2="964" y2="787"/>
<line class="a" x1="1312" y1="787" x2="1371" y2="787"/>
<line x1="901" y1="787" x2="901" y2="994"/>
<line class="a" x1="354" y1="992" x2="960" y2="994"/>
<line class="a" x1="1308" y1="993" x2="1388" y2="993"/>
<line class="a" x1="356" y1="1258" x2="492" y2="1257"/>
<line class="a" x1="871" y1="1257" x2="949" y2="1257"/>
<line class="a" x1="1316" y1="1257" x2="1400" y2="1258"/>
<line class="a" x1="366" y1="1573" x2="505" y2="1573"/>
<line x1="803" y1="1573" x2="920" y2="1573"/>
<line class="a" x1="1326" y1="1573" x2="1391" y2="1576"/>
<line x1="1124" y1="1652" x2="1124" y2="1859"/>
<line class="a" x1="796" y1="1900" x2="921" y2="1900"/>
<line class="a" x1="1328" y1="1900" x2="1396" y2="1900"/>
<line class="a" x1="362" y1="2110" x2="511" y2="2108"/>
<line class="a" x1="810" y1="2108" x2="917" y2="2108"/>
<line class="a" x1="1338" y1="2108" x2="1410" y2="2109"/>
<line class="a" x1="912" y1="2467" x2="956" y2="2466"/>
<line class="a" x1="1321" y1="2465" x2="1397" y2="2462"/>
<line class="a" x1="448" y1="2868" x2="567" y2="2751"/>
<line class="a" x1="920" y1="2747" x2="973" y2="2745"/>
<line class="a" x1="1337" y1="2745" x2="1409" y2="2747"/>
<line x1="922" y1="2746" x2="925" y2="3021"/>
<line class="a" x1="358" y1="3022" x2="978" y2="3020"/>
<line class="a" x1="1343" y1="3020" x2="1397" y2="3021"/>
<line class="a" x1="1816" y1="206" x2="1947" y2="52"/>
<line class="a" x1="1816" y1="206" x2="1912" y2="142"/>
<line class="a" x1="1816" y1="206" x2="1933" y2="216"/>
<line class="a" x1="1857" y1="428" x2="1898" y2="393"/>
<line class="a" x1="1857" y1="428" x2="1922" y2="475"/>
<line class="a" x1="1626" y1="532" x2="1891" y2="267"/>
<line class="a" x1="1594" y1="715" x2="1891" y2="267"/>
<line class="a" x1="1594" y1="715" x2="1926" y2="433"/>
<line class="a" x1="1595" y1="912" x2="1891" y2="267"/>
<line class="a" x1="1857" y1="599" x2="1974" y2="585"/>
<line class="a" x1="1812" y1="787" x2="1885" y2="888"/>
<line class="a" x1="1810" y1="993" x2="1857" y2="1109"/>
<line class="a" x1="1809" y1="1258" x2="1882" y2="1000"/>
<line class="a" x1="1809" y1="1258" x2="1905" y2="1246"/>
<line class="a" x1="1809" y1="1258" x2="1885" y2="1312"/>
<line class="a" x1="1871" y1="1576" x2="1916" y2="1545"/>
<line class="a" x1="1871" y1="1576" x2="1895" y2="1687"/>
<line class="a" x1="1603" y1="1855" x2="1916" y2="1545"/>
<line class="a" x1="1603" y1="2373" x2="1947" y2="1594"/>
<line class="a" x1="1809" y1="1900" x2="1890" y2="1926"/>
<line class="a" x1="1823" y1="2109" x2="1867" y2="2094"/>
<line class="a" x1="1823" y1="2109" x2="1897" y2="2318"/>
<line class="a" x1="1809" y1="2462" x2="1908" y2="2468"/>
<line class="a" x1="1806" y1="2747" x2="1838" y2="2694"/>
<line class="a" x1="1608" y1="2813" x2="1891" y2="2829"/>
<line class="a" x1="1807" y1="3021" x2="1848" y2="2948"/>
<line class="a" x1="1807" y1="3021" x2="1886" y2="3036"/>
</g>
</svg>
